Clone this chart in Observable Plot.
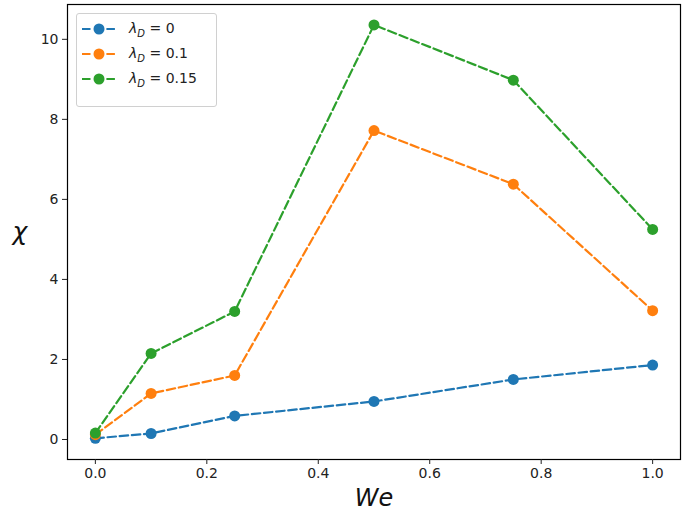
<!DOCTYPE html>
<html>
<head>
<meta charset="utf-8">
<script src="https://cdn.jsdelivr.net/npm/d3@7"></script>
<script src="https://cdn.jsdelivr.net/npm/@observablehq/plot@0.6"></script>
<style>
  html, body { margin: 0; padding: 0; background: #fff; }
  #wrap { position: relative; width: 685px; height: 517px; font-family: "DejaVu Sans", sans-serif; }
  #legend { position: absolute; left: 76px; top: 13px; width: 141px; height: 94px; box-sizing: border-box;
    border: 1px solid #d0d0d0; border-radius: 3px; background: rgba(255,255,255,0.8); }
  .row { position: absolute; left: 0; height: 20px; display: flex; align-items: center; }
  .row svg { margin-left: 5px; }
  .row span { margin-left: 13px; font-size: 14px; color: #222; }
</style>
</head>
<body>
<div id="wrap"></div>
<script>
const we = [0, 0.1, 0.25, 0.5, 0.75, 1.0];
const seriesNames = ["λD = 0", "λD = 0.1", "λD = 0.15"];
const seriesLabels = [["0"], ["0.1"], ["0.15"]];
const chi0 = [0.03, 0.15, 0.59, 0.95, 1.5, 1.86];
const chi01 = [0.12, 1.15, 1.6, 7.72, 6.38, 3.22];
const chi015 = [0.16, 2.15, 3.2, 10.36, 8.98, 5.25];
const colors = ["#1f77b4", "#ff7f0e", "#2ca02c"];
const xTicks = [0, 0.2, 0.4, 0.6, 0.8, 1.0];
const yTicks = [0, 2, 4, 6, 8, 10];

const allSeries = [chi0, chi01, chi015];
const data = [];
allSeries.forEach((vals, s) => vals.forEach((v, i) => data.push({we: we[i], chi: v, s: seriesNames[s]})));

const chart = Plot.plot({
  width: 685,
  height: 517,
  marginLeft: 67,
  marginRight: 5,
  marginTop: 4,
  marginBottom: 58,
  style: {fontFamily: "DejaVu Sans, sans-serif", fontSize: "14px", color: "#222", background: "#fff"},
  x: {domain: [-0.05, 1.05], ticks: xTicks, tickFormat: d3.format(".1f"), tickSize: 5, tickPadding: 4, label: null},
  y: {domain: [-0.5, 10.87], ticks: yTicks, tickFormat: d => String(d), tickSize: 5, tickPadding: 4, label: null},
  color: {domain: seriesNames, range: colors},
  marks: [
    Plot.frame({stroke: "#000", strokeWidth: 1.2}),
    Plot.axisX({ticks: xTicks, tickFormat: d3.format(".1f"), tickSize: 5, fontSize: 14, label: null}),
    Plot.axisY({ticks: yTicks, tickSize: 5, fontSize: 14, label: null}),
    Plot.line(data, {x: "we", y: "chi", z: "s", stroke: "s", strokeWidth: 2.2, strokeDasharray: "8.5,3.7"}),
    Plot.dot(data, {x: "we", y: "chi", fill: "s", r: 5.5}),
    Plot.text(["We"], {frameAnchor: "bottom", dy: 46, text: d => d, fontSize: 24, fontStyle: "italic", fill: "#111"}),
    Plot.text(["χ"], {frameAnchor: "left", dx: -55, text: d => d, fontSize: 25, fontStyle: "italic", fill: "#111"})
  ]
});

const wrap = document.getElementById("wrap");
wrap.appendChild(chart);

const legend = document.createElement("div");
legend.id = "legend";
seriesLabels.forEach((lab, i) => {
  const row = document.createElement("div");
  row.className = "row";
  row.style.top = (15 + i * 25 - 10) + "px";
  row.innerHTML = `<svg width="34" height="14"><line x1="0" y1="7" x2="34" y2="7" stroke="${colors[i]}" stroke-width="2.2" stroke-dasharray="8.5,3.7"/><circle cx="17" cy="7" r="5.5" fill="${colors[i]}"/></svg><span><i>λ</i><sub style="font-size:10px"><i>D</i></sub> = ${lab[0]}</span>`;
  legend.appendChild(row);
});
wrap.appendChild(legend);
</script>
</body>
</html>
